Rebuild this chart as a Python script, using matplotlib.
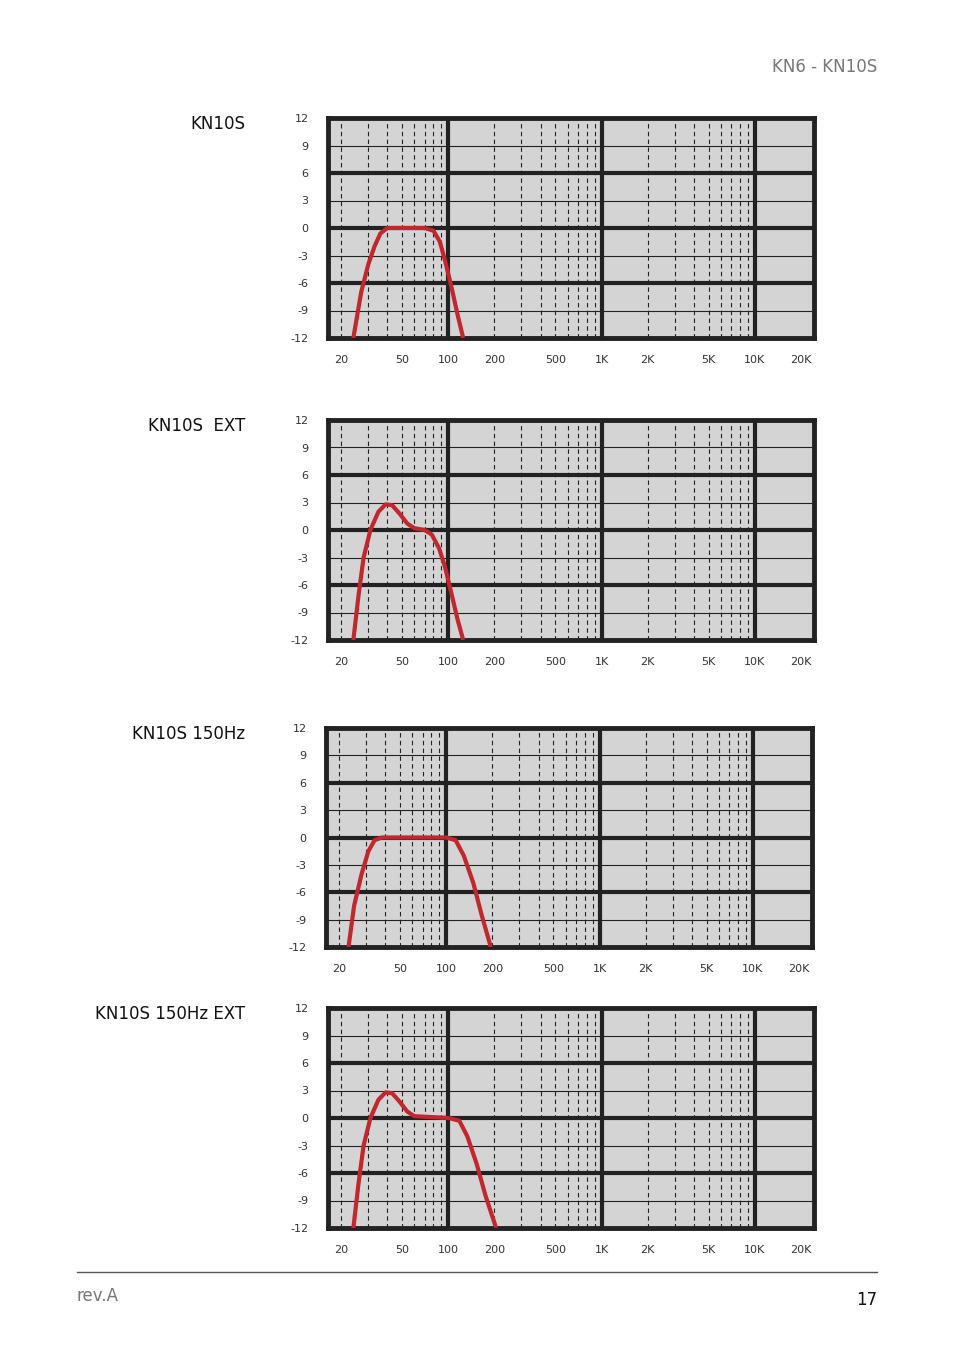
import numpy as np
import matplotlib.pyplot as plt

W, H = 954, 1354

titles = ["KN10S", "KN10S  EXT", "KN10S 150Hz", "KN10S 150Hz EXT"]

# frequency response curves (Hz, dB)
f1 = [24, 27, 30, 33, 36, 40, 50, 70, 80, 88, 95, 105, 115, 125]
d1 = [-12, -7, -4, -2, -0.6, 0, 0, 0, -0.3, -1.5, -3.5, -6.5, -9.5, -12]

f2 = [24, 26, 28, 31, 35, 39, 43, 48, 54, 60, 70, 78, 87, 95, 105, 115, 125]
d2 = [-12, -7, -3, 0, 2, 2.8, 2.7, 1.8, 0.7, 0.2, 0, -0.5, -2, -4, -7, -9.8, -12]

f3 = [23, 25, 28, 31, 34, 38, 100, 115, 130, 150, 170, 195]
d3 = [-12, -7.5, -4, -1.5, -0.3, 0, 0, -0.3, -2, -5, -8.5, -12]

f4 = [24, 26, 28, 31, 35, 39, 43, 48, 54, 60, 100, 118, 133, 153, 175, 205]
d4 = [-12, -7, -3, 0, 2, 2.8, 2.7, 1.8, 0.7, 0.2, 0, -0.3, -2, -5, -8.5, -12]

curves = [(f1, d1), (f2, d2), (f3, d3), (f4, d4)]

y_ticks = [12, 9, 6, 3, 0, -3, -6, -9, -12]
x_ticks = [20, 50, 100, 200, 500, 1000, 2000, 5000, 10000, 20000]
x_labels = ["20", "50", "100", "200", "500", "1K", "2K", "5K", "10K", "20K"]
minor_x = [m * d for d in (10, 100, 1000) for m in range(3, 10)] + [20, 200, 2000]
major_x = [100, 1000, 10000]

# panel boxes in pixels: left, right, top, bottom
boxes = [(328, 814, 118, 338), (328, 814, 420, 640),
         (326, 812, 728, 947), (328, 814, 1008, 1228)]

fig = plt.figure(figsize=(W / 100, H / 100), dpi=100)

for (l, r, t, b), title, (fx, dy) in zip(boxes, titles, curves):
    ax = fig.add_axes([l / W, 1 - b / H, (r - l) / W, (b - t) / H])
    ax.set_facecolor("#d4d4d4")
    ax.set_xscale("log")
    ax.set_xlim(16.4, 24300)
    ax.set_ylim(-12, 12)
    for x in minor_x:
        ax.axvline(x, color="#222222", lw=0.8, ls=(0, (4, 3)), zorder=1)
    for x in major_x:
        ax.axvline(x, color="#222222", lw=3, zorder=2)
    for y in (9, 3, -3, -9):
        ax.axhline(y, color="#222222", lw=0.8, zorder=1)
    for y in (6, 0, -6):
        ax.axhline(y, color="#222222", lw=3, zorder=2)
    ax.plot(fx, dy, color="#c1272d", lw=3, zorder=3, solid_capstyle="butt")
    for s in ax.spines.values():
        s.set_linewidth(3.5)
        s.set_color("#222222")
    ax.set_yticks(y_ticks)
    ax.set_yticklabels([str(v) for v in y_ticks], fontsize=8, color="#333333")
    ax.set_xticks(x_ticks)
    ax.set_xticklabels(x_labels, fontsize=8, color="#333333")
    ax.xaxis.set_minor_locator(plt.NullLocator())
    ax.tick_params(length=0, pad=12)
    ax.tick_params(axis="y", pad=14)
    fig.text(245 / W, 1 - (t + 6) / H, title, ha="right", va="center",
             fontsize=12, color="#111111")

fig.text(877 / W, 1 - 67 / H, "KN6 - KN10S", ha="right", va="center",
         fontsize=12, color="#777777")
fig.add_artist(plt.Line2D([77 / W, 877 / W], [1 - 1272 / H] * 2,
                          color="#555555", lw=1))
fig.text(77 / W, 1 - 1296 / H, "rev.A", ha="left", va="center",
         fontsize=12, color="#777777")
fig.text(877 / W, 1 - 1300 / H, "17", ha="right", va="center",
         fontsize=12, color="#111111")

fig.savefig("out.png", dpi=100)
